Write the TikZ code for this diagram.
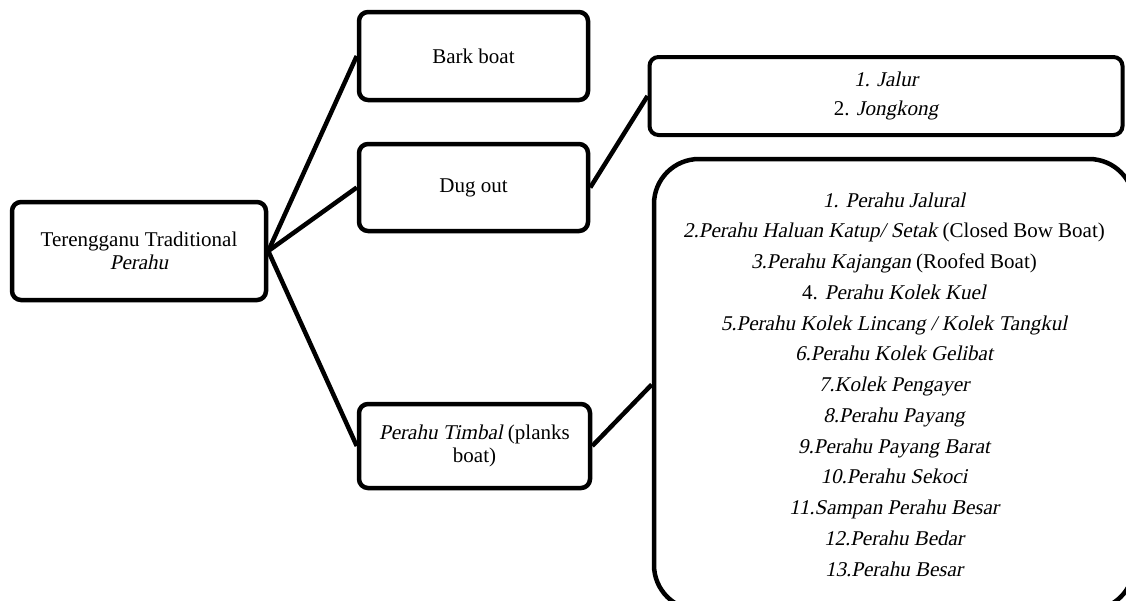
\documentclass[tikz,border=0pt]{standalone}
\usepackage{fontspec}
\setmainfont{Liberation Serif}[ItalicFont={Liberation Serif},ItalicFeatures={FakeSlant=0.21}]
\begin{document}
\begin{tikzpicture}[x=1pt,y=-1pt,
  box/.style={draw, line width=4.5pt, rounded corners=9pt, align=center,
    font=\fontsize{21}{23.5}\selectfont, inner sep=0pt},
  link/.style={line width=4.5pt}]
\clip (0,0) rectangle (1126,600);
\useasboundingbox (0,0) rectangle (1126,600);
\node[box, minimum width=254pt, minimum height=98pt] (root) at (139,251)
  {Terengganu Traditional\\\textit{Perahu}};
\node[box, minimum width=229pt, minimum height=88pt] (bark) at (473.5,56) {Bark boat};
\node[box, minimum width=229pt, minimum height=87pt] (dug) at (473.5,187.5) {Dug out};
\node[box, minimum width=231pt, minimum height=84pt] (timbal) at (474.5,446)
  {\textit{Perahu Timbal} (planks\\boat)};
\node[box, line width=4pt, minimum width=473pt, minimum height=78pt,
  font=\fontsize{21}{29}\selectfont] (jalur) at (886,96)
  {\textit{1. Jalur}\\2. \textit{Jongkong}};
\node[box, rounded corners=45pt, minimum width=480pt, minimum height=451pt,
  font=\fontsize{21}{30.75}\selectfont] (list) at (894,384.5)
  {\textit{1. Perahu Jalural}\\
   \textit{2.Perahu Haluan Katup/ Setak} (Closed Bow Boat)\\
   \textit{3.Perahu Kajangan} (Roofed Boat)\\
   4. \textit{Perahu Kolek Kuel}\\
   \textit{5.Perahu Kolek Lincang / Kolek Tangkul}\\
   \textit{6.Perahu Kolek Gelibat}\\
   \textit{7.Kolek Pengayer}\\
   \textit{8.Perahu Payang}\\
   \textit{9.Perahu Payang Barat}\\
   \textit{10.Perahu Sekoci}\\
   \textit{11.Sampan Perahu Besar}\\
   \textit{12.Perahu Bedar}\\
   \textit{13.Perahu Besar}};
\draw[link] (root.east) -- (bark.west);
\draw[link] (root.east) -- (dug.west);
\draw[link] (root.east) -- (timbal.west);
\draw[link] (dug.east) -- (jalur.west);
\draw[link] (timbal.east) -- (list.west);
\end{tikzpicture}
\end{document}
